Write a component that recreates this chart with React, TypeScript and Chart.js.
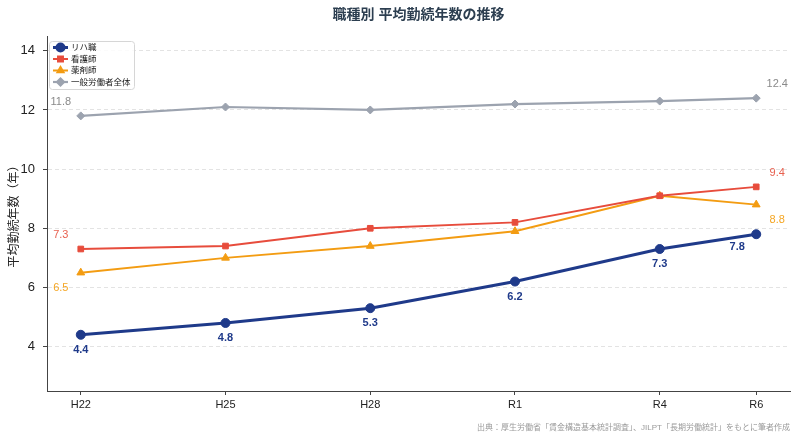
import { useEffect, useRef } from 'react';
import { Chart, registerables } from 'chart.js';
import { drawPoint } from 'chart.js/helpers';

Chart.register(...registerables);

const FONT = '"Liberation Sans", "Noto Sans CJK JP", sans-serif';

// data
const eraLabels = ['H22', 'H25', 'H28', 'R1', 'R4', 'R6'];
const years = [2010, 2013, 2016, 2019, 2022, 2024];
const seriesNames = ['リハ職', '看護師', '薬剤師', '一般労働者全体'];
const rehab = [4.4, 4.8, 5.3, 6.2, 7.3, 7.8];
const nurse = [7.3, 7.4, 8.0, 8.2, 9.1, 9.4];
const pharmacist = [6.5, 7.0, 7.4, 7.9, 9.1, 8.8];
const allWorkers = [11.8, 12.1, 12.0, 12.2, 12.3, 12.4];
const yTicks = [4, 6, 8, 10, 12, 14];

const colors = ['#1f3a8a', '#e74c3c', '#f39c12', '#9ca3af'];
const labelColors = ['#1f3a8a', '#e8604f', '#f5a623', '#8a8a8a'];

// which points get a value label, and where (px offset from the point)
const labelSpots: { idx: number; dx: number; dy: number }[][] = [
  [
    { idx: 0, dx: 0, dy: 15 },
    { idx: 1, dx: 0, dy: 15 },
    { idx: 2, dx: 0, dy: 15 },
    { idx: 3, dx: 0, dy: 15 },
    { idx: 4, dx: 0, dy: 15 },
    { idx: 5, dx: -19, dy: 13 },
  ],
  [
    { idx: 0, dx: -20, dy: -14 },
    { idx: 5, dx: 21, dy: -14 },
  ],
  [
    { idx: 0, dx: -20, dy: 15 },
    { idx: 5, dx: 21, dy: 15 },
  ],
  [
    { idx: 0, dx: -20, dy: -14 },
    { idx: 5, dx: 21, dy: -14 },
  ],
];

const toPoints = (vals: number[]) => vals.map((v, i) => ({ x: years[i], y: v }));

const extrasPlugin = {
  id: 'extras',
  afterDatasetsDraw(chart: any) {
    const ctx = chart.ctx;
    const area = chart.chartArea;

    // value labels
    chart.data.datasets.forEach((ds: any, di: number) => {
      const meta = chart.getDatasetMeta(di);
      ctx.save();
      ctx.font = (di === 0 ? 'bold ' : '') + '11px ' + FONT;
      ctx.fillStyle = labelColors[di];
      ctx.textAlign = 'center';
      ctx.textBaseline = 'middle';
      labelSpots[di].forEach((s) => {
        const pt = meta.data[s.idx];
        ctx.fillText(ds.data[s.idx].y.toFixed(1), pt.x + s.dx, pt.y + s.dy);
      });
      ctx.restore();
    });

    // legend box in the upper-left of the plot
    const lx = area.left + 2;
    const ly = area.top + 5;
    ctx.save();
    ctx.fillStyle = 'rgba(255,255,255,0.85)';
    ctx.strokeStyle = '#d6d6d6';
    ctx.lineWidth = 1;
    ctx.beginPath();
    ctx.roundRect(lx + 0.5, ly + 0.5, 85, 48, 3);
    ctx.fill();
    ctx.stroke();
    ctx.font = '8.5px ' + FONT;
    ctx.textBaseline = 'middle';
    chart.data.datasets.forEach((ds: any, di: number) => {
      const y = ly + 6.5 + di * 11.5;
      ctx.strokeStyle = ds.borderColor;
      ctx.lineWidth = ds.borderWidth;
      ctx.beginPath();
      ctx.moveTo(lx + 4, y);
      ctx.lineTo(lx + 19, y);
      ctx.stroke();
      ctx.fillStyle = ds.borderColor;
      ctx.strokeStyle = ds.borderColor;
      drawPoint(ctx, { pointStyle: ds.pointStyle, radius: 3.5, rotation: 0, borderWidth: 1 }, lx + 11.5, y);
      ctx.fillStyle = '#222';
      ctx.fillText(ds.label, lx + 22, y + 0.5);
    });
    ctx.restore();
  },
  afterDraw(chart: any) {
    const ctx = chart.ctx;
    const area = chart.chartArea;
    ctx.save();
    ctx.fillStyle = '#2c3e50';
    ctx.font = 'bold 14px ' + FONT;
    ctx.textAlign = 'center';
    ctx.textBaseline = 'middle';
    ctx.fillText('職種別 平均勤続年数の推移', (area.left + area.right) / 2, 15);
    ctx.fillStyle = '#9a9a9a';
    ctx.font = '8px ' + FONT;
    ctx.textAlign = 'right';
    ctx.fillText('出典：厚生労働省「賃金構造基本統計調査」、JILPT「長期労働統計」をもとに筆者作成', area.right, 428);
    ctx.restore();
  },
};

export default function App() {
  const canvasRef = useRef<HTMLCanvasElement>(null);
  const chartRef = useRef<Chart | null>(null);

  useEffect(() => {
    document.body.style.margin = '0';
    if (!canvasRef.current) return;
    if (chartRef.current) chartRef.current.destroy();

    const series = [rehab, nurse, pharmacist, allWorkers];
    const styles = ['circle', 'rect', 'triangle', 'rectRot'];
    const radii = [4.5, 4, 4.5, 4];
    const widths = [3, 2, 2, 2.2];

    chartRef.current = new Chart(canvasRef.current, {
      type: 'line',
      data: {
        datasets: series.map((vals, i) => ({
          label: seriesNames[i],
          data: toPoints(vals),
          borderColor: colors[i],
          backgroundColor: colors[i],
          borderWidth: widths[i],
          pointStyle: styles[i] as any,
          pointRadius: radii[i],
          pointBorderWidth: 1,
          tension: 0,
        })),
      },
      options: {
        responsive: false,
        animation: false,
        layout: { padding: { top: 36, right: 10, left: 0, bottom: 0 } },
        plugins: {
          legend: { display: false },
          title: { display: false },
          tooltip: { enabled: false },
        },
        scales: {
          x: {
            type: 'linear',
            min: 2009.3,
            max: 2024.7,
            afterBuildTicks: (axis: any) => {
              axis.ticks = years.map((v) => ({ value: v }));
            },
            afterFit: (axis: any) => {
              axis.height = 442 - 36 - 355;
            },
            ticks: {
              callback: (v: any) => eraLabels[years.indexOf(Number(v))] ?? '',
              color: '#222',
              font: { family: FONT, size: 11 },
              padding: 3,
              maxRotation: 0,
              autoSkip: false,
            },
            grid: {
              drawOnChartArea: false,
              drawTicks: true,
              tickLength: 4,
              tickColor: '#444',
            },
            border: { color: '#444', width: 1 },
          },
          y: {
            min: 2.5,
            max: 14.5,
            afterBuildTicks: (axis: any) => {
              axis.ticks = yTicks.map((v) => ({ value: v }));
            },
            afterFit: (axis: any) => {
              axis.width = 47;
            },
            ticks: {
              color: '#222',
              font: { family: FONT, size: 13 },
              padding: 8,
            },
            grid: {
              color: '#e3e3e3',
              lineWidth: 1,
              drawTicks: true,
              tickLength: 4,
              tickColor: '#444',
              tickBorderDash: [],
            },
            border: { color: '#444', width: 1, dash: [4, 3] },
            title: {
              display: true,
              text: '平均勤続年数（年）',
              color: '#222',
              font: { family: FONT, size: 12 },
              padding: { top: 7, bottom: 0 },
            },
          },
        },
      },
      plugins: [extrasPlugin],
    });

    return () => {
      if (chartRef.current) {
        chartRef.current.destroy();
        chartRef.current = null;
      }
    };
  }, []);

  return (
    <div style={{ width: 800, height: 442 }}>
      <canvas ref={canvasRef} width={800} height={442} />
    </div>
  );
}
